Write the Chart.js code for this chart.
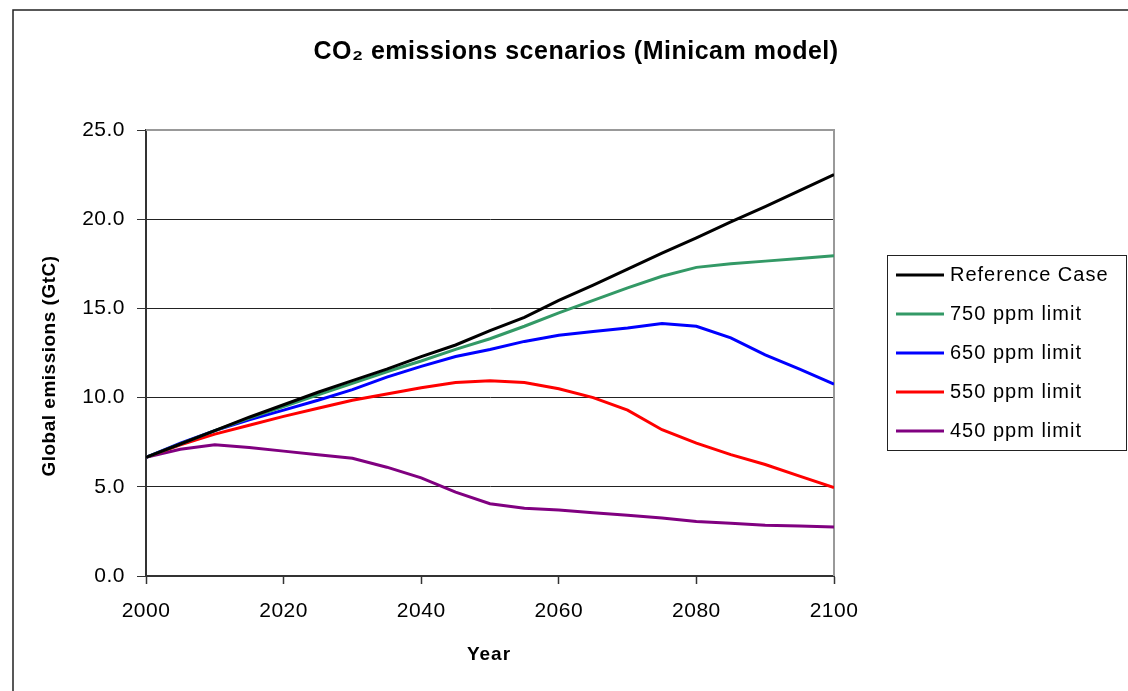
<!DOCTYPE html>
<html>
<head>
<meta charset="utf-8">
<script src="https://cdn.jsdelivr.net/npm/chart.js@4"></script>
<style>
  html, body { margin: 0; padding: 0; background: #fff; }
  #wrap { width: 1128px; height: 691px; }
</style>
</head>
<body>
<div id="wrap"><canvas id="grafico" width="1128" height="691"></canvas></div>
<script>
// años del modelo
const years = [2000, 2005, 2010, 2015, 2020, 2025, 2030, 2035, 2040, 2045, 2050,
               2055, 2060, 2065, 2070, 2075, 2080, 2085, 2090, 2095, 2100];

// emisiones globales (GtC) por escenario
const referenceCase = [6.65, 7.4, 8.15, 8.9, 9.6, 10.3, 10.95, 11.6, 12.3, 12.95, 13.75,
                       14.5, 15.45, 16.3, 17.2, 18.1, 18.95, 19.85, 20.7, 21.6, 22.5];
const limit750 = [6.65, 7.4, 8.15, 8.85, 9.5, 10.15, 10.8, 11.45, 12.05, 12.7, 13.3,
                  14.0, 14.75, 15.45, 16.15, 16.8, 17.3, 17.5, 17.65, 17.8, 17.95];
const limit650 = [6.65, 7.45, 8.15, 8.75, 9.3, 9.85, 10.45, 11.15, 11.75, 12.3, 12.7,
                  13.15, 13.5, 13.7, 13.9, 14.15, 14.0, 13.35, 12.4, 11.6, 10.75];
const limit550 = [6.65, 7.35, 7.95, 8.45, 8.95, 9.4, 9.85, 10.2, 10.55, 10.85, 10.95,
                  10.85, 10.5, 10.0, 9.3, 8.2, 7.45, 6.8, 6.25, 5.6, 4.95];
const limit450 = [6.65, 7.1, 7.35, 7.2, 7.0, 6.8, 6.6, 6.1, 5.5, 4.7, 4.05,
                  3.8, 3.7, 3.55, 3.4, 3.25, 3.05, 2.95, 2.85, 2.8, 2.75];

const seriesLabels = ["Reference Case", "750 ppm limit", "650 ppm limit", "550 ppm limit", "450 ppm limit"];
const seriesData = [referenceCase, limit750, limit650, limit550, limit450];
const seriesColors = ["#000000", "#339966", "#0000ff", "#ff0000", "#800080"];

const yTicks = [0, 5, 10, 15, 20, 25];
const xTicks = [2000, 2020, 2040, 2060, 2080, 2100];

const FONT = "'Liberation Sans', Arial, sans-serif";

// marco, títulos y leyenda dibujados a mano
const marcoPlugin = {
    id: "marco",
    beforeDraw(chart) {
        const c = chart.ctx;
        c.save();
        c.strokeStyle = "#222";
        c.lineWidth = 1.5;
        c.strokeRect(13, 10, 1200, 800);
        c.restore();
        // espaciado parecido al texto de Excel
        c.letterSpacing = "0.5px";
    },
    beforeDatasetsDraw(chart) {
        const a = chart.chartArea;
        const c = chart.ctx;
        c.save();
        c.strokeStyle = "#999";
        c.lineWidth = 2;
        c.beginPath();
        c.moveTo(a.left, a.top);
        c.lineTo(a.right, a.top);
        c.lineTo(a.right, a.bottom);
        c.stroke();
        c.restore();
    },
    afterDraw(chart) {
        const c = chart.ctx;
        c.save();
        c.fillStyle = "#000";
        c.textBaseline = "middle";
        c.textAlign = "center";
        // título
        c.font = "bold 25px " + FONT;
        c.letterSpacing = "0.5px";
        c.fillText("CO\u2082 emissions scenarios (Minicam model)", 576, 52);
        // títulos de los ejes
        c.font = "bold 19px " + FONT;
        c.letterSpacing = "1px";
        c.fillText("Year", 489, 655);
        c.save();
        c.translate(50, 366);
        c.rotate(-Math.PI / 2);
        c.letterSpacing = "0.5px";
        c.fillText("Global emissions (GtC)", 0, 0);
        c.restore();
        // leyenda
        c.strokeStyle = "#222";
        c.lineWidth = 1;
        c.strokeRect(887.5, 255.5, 239, 195);
        c.font = "20px " + FONT;
        c.letterSpacing = "1px";
        c.textAlign = "left";
        chart.data.datasets.forEach((ds, i) => {
            const y = 275 + i * 39;
            c.strokeStyle = ds.borderColor;
            c.lineWidth = 3;
            c.beginPath();
            c.moveTo(896, y);
            c.lineTo(944, y);
            c.stroke();
            c.fillStyle = "#000";
            c.fillText(ds.label, 950, y);
        });
        c.restore();
    }
};

const ctx = document.getElementById("grafico").getContext("2d");
const myChart = new Chart(ctx, {
    type: "line",
    data: {
        datasets: seriesLabels.map((label, i) => ({
            label: label,
            data: years.map((yr, j) => ({ x: yr, y: seriesData[i][j] })),
            borderColor: seriesColors[i],
            backgroundColor: seriesColors[i],
            borderWidth: 3,
            pointRadius: 0,
            fill: false,
            tension: 0
        }))
    },
    options: {
        responsive: false,
        animation: false,
        devicePixelRatio: 1,
        layout: { padding: { left: 0, top: 130, right: 294, bottom: 0 } },
        plugins: {
            legend: { display: false },
            title: { display: false },
            tooltip: { enabled: false }
        },
        scales: {
            x: {
                type: "linear",
                min: 2000,
                max: 2100,
                afterFit(scale) { scale.height = 115; },
                afterBuildTicks(scale) { scale.ticks = xTicks.map(v => ({ value: v })); },
                ticks: {
                    color: "#000",
                    font: { family: FONT, size: 21 },
                    padding: 15,
                    maxRotation: 0,
                    callback: v => String(v)
                },
                grid: { drawOnChartArea: false, drawTicks: true, tickLength: 8, tickColor: "#333", tickWidth: 1.5 },
                border: { color: "#333", width: 2 }
            },
            y: {
                min: 0,
                max: 25,
                afterFit(scale) { scale.width = 146; },
                afterBuildTicks(scale) { scale.ticks = yTicks.map(v => ({ value: v })); },
                ticks: {
                    color: "#000",
                    font: { family: FONT, size: 21 },
                    padding: 12,
                    callback: v => v.toFixed(1)
                },
                grid: { color: "#222", lineWidth: 1, drawTicks: true, tickLength: 9, tickColor: "#333" },
                border: { color: "#333", width: 2 }
            }
        }
    },
    plugins: [marcoPlugin]
});
</script>
</body>
</html>
